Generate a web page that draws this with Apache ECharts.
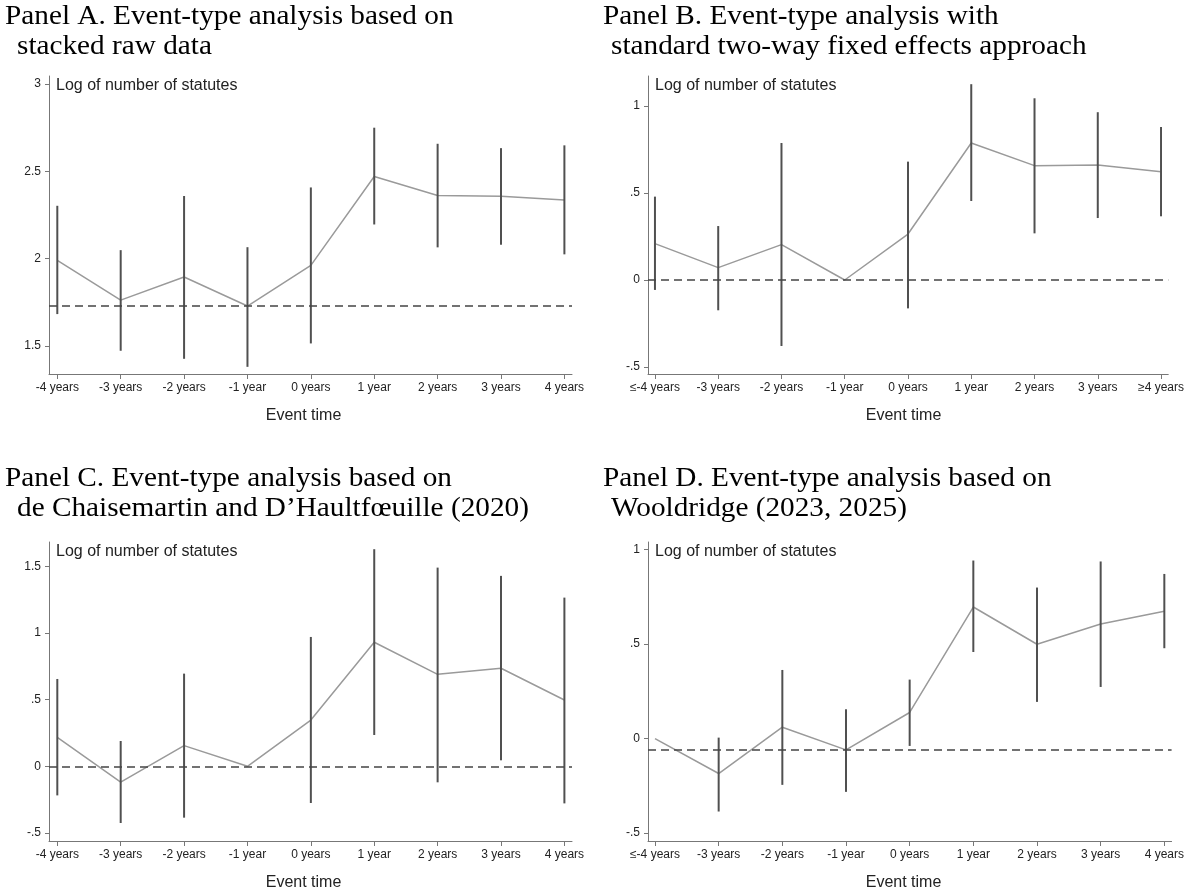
<!DOCTYPE html>
<html>
<head>
<meta charset="utf-8">
<script src="https://cdn.jsdelivr.net/npm/echarts@6/dist/echarts.min.js"></script>
<style>
html,body{margin:0;padding:0;background:#fff;}
#chart{width:1187px;height:888px;}
</style>
</head>
<body>
<div id="chart"></div>
<script>
// ---- data ----
var eventTimes = [-4, -3, -2, -1, 0, 1, 2, 3, 4];
var labelsAC = ['-4 years', '-3 years', '-2 years', '-1 year', '0 years', '1 year', '2 years', '3 years', '4 years'];
var labelsB = ['\u2264-4 years', '-3 years', '-2 years', '-1 year', '0 years', '1 year', '2 years', '3 years', '\u22654 years'];
var labelsD = ['\u2264-4 years', '-3 years', '-2 years', '-1 year', '0 years', '1 year', '2 years', '3 years', '4 years'];

var coefA = [1.99, 1.763, 1.895, 1.729, 1.962, 2.471, 2.362, 2.357, 2.336];
var lowA  = [1.683, 1.473, 1.427, 1.381, 1.515, 2.196, 2.065, 2.08, 2.025];
var highA = [2.303, 2.049, 2.359, 2.066, 2.408, 2.75, 2.658, 2.633, 2.649];
var refA = 1.725;
var yTicksA = [1.5, 2, 2.5, 3];

var coefB = [0.209, 0.071, 0.203, 0, 0.264, 0.787, 0.657, 0.661, 0.622];
var lowB  = [-0.057, -0.174, -0.379, null, -0.163, 0.454, 0.268, 0.356, 0.366];
var highB = [0.479, 0.31, 0.787, null, 0.68, 1.125, 1.044, 0.964, 0.879];
var refB = 0;
var yTicksB = [-0.5, 0, 0.5, 1];

var coefC = [0.217, -0.118, 0.155, 0, 0.347, 0.93, 0.69, 0.735, 0.497];
var lowC  = [-0.218, -0.425, -0.385, null, -0.275, 0.235, -0.12, 0.045, -0.278];
var highC = [0.655, 0.19, 0.695, null, 0.97, 1.628, 1.49, 1.428, 1.265];
var refC = 0;
var yTicksC = [-0.5, 0, 0.5, 1, 1.5];

var coefD = [0, -0.185, 0.06, -0.06, 0.138, 0.696, 0.499, 0.606, 0.674];
var lowD  = [null, -0.386, -0.245, -0.282, -0.039, 0.458, 0.194, 0.273, 0.478];
var highD = [null, 0.005, 0.363, 0.155, 0.312, 0.942, 0.799, 0.937, 0.871];
var refD = -0.062;
var yTicksD = [-0.5, 0, 0.5, 1];

var titles = [
  ['Panel A. Event-type analysis based on', 'stacked raw data'],
  ['Panel B. Event-type analysis with', 'standard two-way fixed effects approach'],
  ['Panel C. Event-type analysis based on', 'de Chaisemartin and D\u2019Haultf\u0153uille (2020)'],
  ['Panel D. Event-type analysis based on', 'Wooldridge (2023, 2025)']
];
var yAxisTitle = 'Log of number of statutes';
var xAxisTitle = 'Event time';

// ---- layout ----
var panels = [
  {grid:{left:49, top:76, width:523, height:298}, x:[-4.131, 4.12], y:[1.34, 3.046], coef:coefA, low:lowA, high:highA, ref:refA, yt:yTicksA, labels:labelsAC, tx:5, ty:0, ind:12},
  {grid:{left:648, top:76, width:525, height:298}, x:[-4.11, 4.114], y:[-0.54, 1.172], coef:coefB, low:lowB, high:highB, ref:refB, yt:yTicksB, labels:labelsB, tx:603, ty:0, ind:8},
  {grid:{left:49, top:542, width:523, height:299}, x:[-4.131, 4.12], y:[-0.56, 1.682], coef:coefC, low:lowC, high:highC, ref:refC, yt:yTicksC, labels:labelsAC, tx:5, ty:462, ind:12},
  {grid:{left:648, top:542, width:525, height:299}, x:[-4.11, 4.114], y:[-0.542, 1.04], coef:coefD, low:lowD, high:highD, ref:refD, yt:yTicksD, labels:labelsD, tx:603, ty:462, ind:8}
];

function fmtY(v){ return String(v).replace(/^(-?)0\./, '$1.'); }

var grids = [], xAxes = [], yAxes = [], series = [], graphics = [];
panels.forEach(function(p, i){
  grids.push(p.grid);
  var labs = p.labels;
  xAxes.push({
    type:'value', gridIndex:i, min:p.x[0], max:p.x[1],
    axisLine:{show:true, onZero:false, lineStyle:{color:'#777', width:1}},
    axisTick:{show:true, length:5, customValues:eventTimes, lineStyle:{color:'#777'}},
    axisLabel:{show:true, customValues:eventTimes, margin:8, color:'#222', fontSize:12, fontFamily:'Liberation Sans',
      formatter:function(v){ var k = eventTimes.indexOf(Math.round(v)); return k >= 0 ? labs[k] : ''; }},
    splitLine:{show:false}
  });
  yAxes.push({
    type:'value', gridIndex:i, min:p.y[0], max:p.y[1],
    axisLine:{show:true, onZero:false, lineStyle:{color:'#777', width:1}},
    axisTick:{show:true, length:4, customValues:p.yt, lineStyle:{color:'#777'}},
    axisLabel:{show:true, customValues:p.yt, margin:8, color:'#222', fontSize:12, fontFamily:'Liberation Sans', formatter:fmtY},
    splitLine:{show:false}
  });
  var ci = [];
  eventTimes.forEach(function(t, k){ if (p.low[k] != null && p.high[k] != null) ci.push([t, p.low[k], p.high[k]]); });
  series.push({
    type:'custom', xAxisIndex:i, yAxisIndex:i, data:ci, silent:true, z:3,
    renderItem:function(params, api){
      var a = api.coord([api.value(0), api.value(1)]);
      var b = api.coord([api.value(0), api.value(2)]);
      return {type:'line', shape:{x1:a[0], y1:a[1], x2:b[0], y2:b[1]}, style:{stroke:'#505050', lineWidth:2}};
    }
  });
  series.push({
    type:'line', xAxisIndex:i, yAxisIndex:i, silent:true, z:2,
    data:eventTimes.map(function(t, k){ return [t, p.coef[k]]; }),
    symbol:'none', lineStyle:{color:'#9a9a9a', width:1.5},
    markLine:{silent:true, symbol:'none', label:{show:false},
      lineStyle:{type:[8,5], color:'#444', width:1.5}, data:[{yAxis:p.ref}]}
  });
  graphics.push({type:'text', x:p.tx, y:p.ty + 3, scaleX:1.045, style:{text:titles[i][0], font:'28px "Liberation Serif"', fill:'#000'}});
  graphics.push({type:'text', x:p.tx + p.ind, y:p.ty + 33, scaleX:1.045, style:{text:titles[i][1], font:'28px "Liberation Serif"', fill:'#000'}});
  graphics.push({type:'text', left:p.grid.left + 7, top:p.grid.top + 2, style:{text:yAxisTitle, font:'16px "Liberation Sans"', fill:'#222'}});
  graphics.push({type:'text', x:p.grid.left + p.grid.width/2 - 7, y:p.grid.top + p.grid.height + 42,
    style:{text:xAxisTitle, font:'16px "Liberation Sans"', fill:'#222', align:'center', verticalAlign:'middle'}});
});

var chart = echarts.init(document.getElementById('chart'), null, {renderer:'canvas'});
chart.setOption({
  animation:false,
  backgroundColor:'#fff',
  grid:grids, xAxis:xAxes, yAxis:yAxes, series:series, graphic:graphics
});
</script>
</body>
</html>
